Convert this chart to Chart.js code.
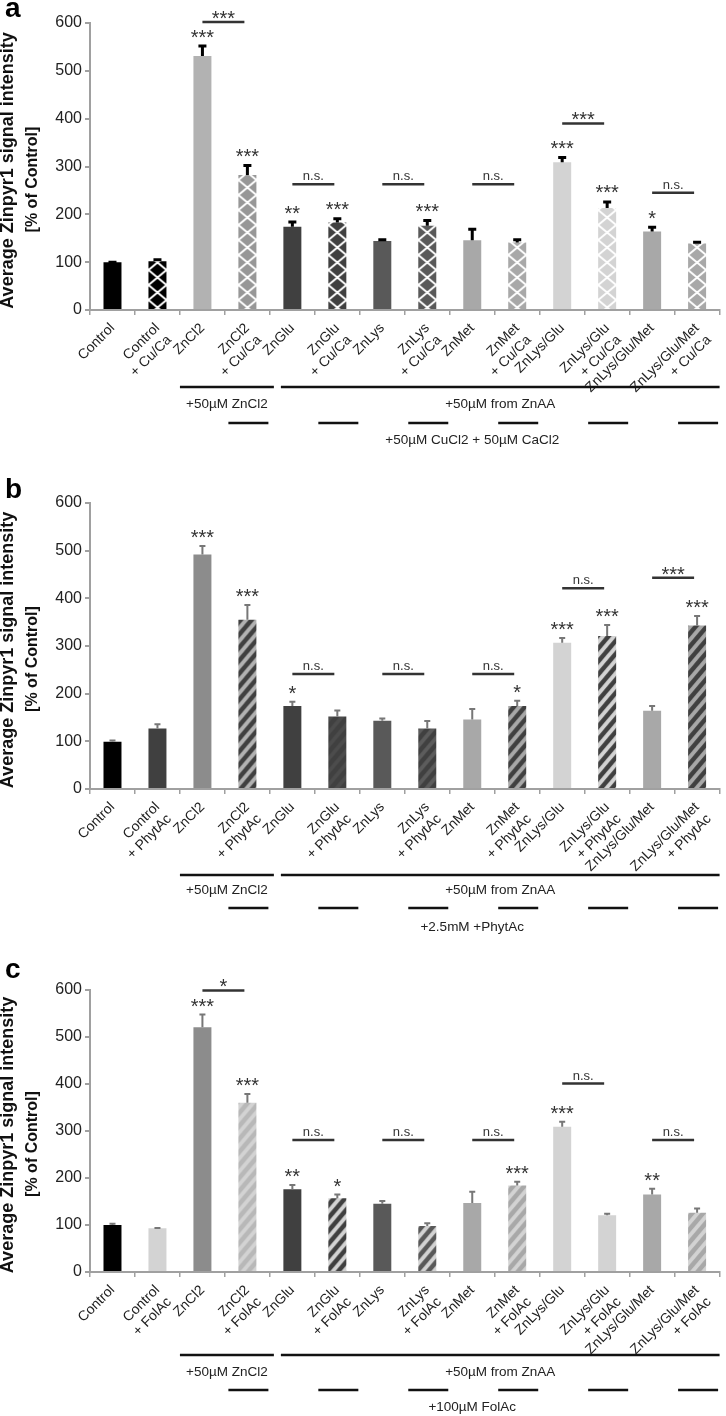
<!DOCTYPE html>
<html>
<head>
<meta charset="utf-8">
<script src="https://cdn.jsdelivr.net/npm/chart.js@4.4.0/dist/chart.umd.min.js"></script>
<style>
  html, body { margin: 0; padding: 0; background: #fff; }
  canvas { position: absolute; left: 0; }
  #chart-a { top: 0; }
  #chart-b { top: 460px; }
  #chart-c { top: 945px; }
</style>
</head>
<body>
<canvas id="chart-a" width="726" height="460"></canvas>
<canvas id="chart-b" width="726" height="485"></canvas>
<canvas id="chart-c" width="726" height="471"></canvas>
<script>
// --------------- data --------------- //

// panel a: + Cu/Ca
const labelsA = [
  'Control', ['Control', '+ Cu/Ca'], 'ZnCl2', ['ZnCl2', '+ Cu/Ca'],
  'ZnGlu', ['ZnGlu', '+ Cu/Ca'], 'ZnLys', ['ZnLys', '+ Cu/Ca'],
  'ZnMet', ['ZnMet', '+ Cu/Ca'], 'ZnLys/Glu', ['ZnLys/Glu', '+ Cu/Ca'],
  'ZnLys/Glu/Met', ['ZnLys/Glu/Met', '+ Cu/Ca']
];
const valuesA = [100, 102, 531, 282, 174, 183, 144, 176, 146, 141, 309, 213, 164, 139];
const semA = [3, 6, 24, 23, 13, 11, 6, 14, 26, 9, 13, 16, 12, 6];
const starsA = ['', '', '***', '***', '**', '***', '', '***', '', '', '***', '***', '*', ''];
// [first bar, second bar, label, level]
const bracketsA = [
  [2, 3, '***', 602], [4, 5, 'n.s.', 263], [6, 7, 'n.s.', 263],
  [8, 9, 'n.s.', 263], [10, 11, '***', 390], [12, 13, 'n.s.', 245]
];

// panel b: + PhytAc
const labelsB = [
  'Control', ['Control', '+ PhytAc'], 'ZnCl2', ['ZnCl2', '+ PhytAc'],
  'ZnGlu', ['ZnGlu', '+ PhytAc'], 'ZnLys', ['ZnLys', '+ PhytAc'],
  'ZnMet', ['ZnMet', '+ PhytAc'], 'ZnLys/Glu', ['ZnLys/Glu', '+ PhytAc'],
  'ZnLys/Glu/Met', ['ZnLys/Glu/Met', '+ PhytAc']
];
const valuesB = [99, 127, 492, 355, 174, 152, 143, 127, 146, 174, 307, 321, 164, 343];
const semB = [5, 11, 20, 33, 11, 15, 7, 18, 24, 13, 12, 25, 12, 22];
const starsB = ['', '', '***', '***', '*', '', '', '', '', '*', '***', '***', '', '***'];
const bracketsB = [
  [4, 5, 'n.s.', 241], [6, 7, 'n.s.', 241], [8, 9, 'n.s.', 241],
  [10, 11, 'n.s.', 421], [12, 13, '***', 443]
];

// panel c: + FolAc
const labelsC = [
  'Control', ['Control', '+ FolAc'], 'ZnCl2', ['ZnCl2', '+ FolAc'],
  'ZnGlu', ['ZnGlu', '+ FolAc'], 'ZnLys', ['ZnLys', '+ FolAc'],
  'ZnMet', ['ZnMet', '+ FolAc'], 'ZnLys/Glu', ['ZnLys/Glu', '+ FolAc'],
  'ZnLys/Glu/Met', ['ZnLys/Glu/Met', '+ FolAc']
];
const valuesC = [100, 93, 521, 360, 176, 157, 145, 98, 147, 184, 309, 121, 165, 126];
const semC = [5, 3, 29, 21, 11, 10, 8, 8, 26, 10, 13, 5, 14, 11];
const starsC = ['', '', '***', '***', '**', '*', '', '', '', '***', '***', '', '**', ''];
const bracketsC = [
  [2, 3, '*', 599], [4, 5, 'n.s.', 281], [6, 7, 'n.s.', 281],
  [8, 9, 'n.s.', 281], [10, 11, 'n.s.', 401], [12, 13, 'n.s.', 281]
];

// --------------- fills --------------- //
const baseA = ['#000000', '#000000', '#b2b2b2', '#979797', '#404040', '#404040', '#595959', '#595959',
  '#a8a8a8', '#a8a8a8', '#d3d3d3', '#d3d3d3', '#a8a8a8', '#a8a8a8'];
const latticeA = [false, true, false, true, false, true, false, true, false, true, false, true, false, true];

const baseB = ['#000000', '#404040', '#8c8c8c', '#404040', '#404040', '#404040', '#595959', '#404040',
  '#a8a8a8', '#404040', '#d3d3d3', '#404040', '#a8a8a8', '#404040'];
const stripeB = [null, null, null, '#b2b2b2', null, '#4c4c4c', null, '#5c5c5c',
  null, '#a8a8a8', null, '#d3d3d3', null, '#a8a8a8'];

const baseC = ['#000000', '#d3d3d3', '#8c8c8c', '#d3d3d3', '#404040', '#d3d3d3', '#595959', '#d3d3d3',
  '#a8a8a8', '#d3d3d3', '#d3d3d3', '#d3d3d3', '#a8a8a8', '#d3d3d3'];
const stripeC = [null, null, null, '#b8b8b8', null, '#404040', null, '#595959',
  null, '#a8a8a8', null, null, null, '#a8a8a8'];

const FONT = 'Arial, "Liberation Sans", sans-serif';

function latticeTile(base) {
  const w = 18, h = 15;
  const c = document.createElement('canvas');
  c.width = w; c.height = h;
  const g = c.getContext('2d');
  g.fillStyle = base;
  g.fillRect(0, 0, w, h);
  g.strokeStyle = '#ffffff';
  g.lineWidth = 2;
  g.beginPath();
  for (const dx of [-w, 0, w]) {
    g.moveTo(dx - w, -h); g.lineTo(dx + 2 * w, 2 * h);
    g.moveTo(dx + 2 * w, -h); g.lineTo(dx - w, 2 * h);
  }
  g.stroke();
  return c;
}

function stripeTile(base, stripe, lw) {
  const w = 11, h = 13;
  const c = document.createElement('canvas');
  c.width = w; c.height = h;
  const g = c.getContext('2d');
  g.fillStyle = base;
  g.fillRect(0, 0, w, h);
  g.strokeStyle = stripe;
  g.lineWidth = lw;
  g.beginPath();
  for (const k of [-1, 0, 1]) {
    g.moveTo(k * w - w, 2 * h); g.lineTo(k * w + 2 * w, -h);
  }
  g.stroke();
  return c;
}

function makeFills(base, tiles) {
  return (ctx) => {
    const i = ctx.dataIndex;
    if (i === undefined || !tiles[i]) return base[i === undefined ? 0 : i];
    const xs = ctx.chart.scales.x;
    const pat = ctx.chart.ctx.createPattern(tiles[i], 'repeat');
    let left = xs ? xs.getPixelForValue(i) - 9 : 0;
    if (!isFinite(left)) left = 0;
    pat.setTransform(new DOMMatrix().translate(left, 0));
    return pat;
  };
}

const tilesA = baseA.map((b, i) => latticeA[i] ? latticeTile(b) : null);
const tilesB = baseB.map((b, i) => stripeB[i] ? stripeTile(b, stripeB[i], 4) : null);
const tilesC = baseC.map((b, i) => stripeC[i] ? stripeTile(b, stripeC[i], 4.5) : null);

// --------------- annotations (error bars, stars, brackets, group lines) --------------- //
function annotations(p) {
  return {
    id: 'annotations',
    afterDatasetsDraw(chart) {
      const ctx = chart.ctx;
      const xs = chart.scales.x, ys = chart.scales.y;
      const area = chart.chartArea;
      const bottom = area.bottom;
      const cx = (i) => xs.getPixelForValue(i);
      const step = cx(1) - cx(0);
      ctx.save();

      // error bars + stars
      ctx.strokeStyle = p.errColor;
      ctx.textAlign = 'center';
      ctx.textBaseline = 'alphabetic';
      p.values.forEach((v, i) => {
        const x = cx(i);
        const y0 = ys.getPixelForValue(v);
        const y1 = ys.getPixelForValue(v + p.sem[i]);
        ctx.lineWidth = p.errWidth;
        ctx.beginPath();
        ctx.moveTo(x, y0); ctx.lineTo(x, y1);
        ctx.moveTo(x - p.capW, y1 + p.errWidth / 2); ctx.lineTo(x + p.capW, y1 + p.errWidth / 2);
        ctx.stroke();
        if (p.stars[i]) {
          ctx.fillStyle = '#333';
          ctx.font = '20px ' + FONT;
          ctx.fillText(p.stars[i], x, y1 - 1);
        }
      });

      // comparison brackets
      p.brackets.forEach(([a, b, label, level]) => {
        const y = ys.getPixelForValue(level);
        ctx.strokeStyle = '#333';
        ctx.lineWidth = 2.5;
        ctx.beginPath();
        ctx.moveTo(cx(a), y); ctx.lineTo(cx(b) - 3, y);
        ctx.stroke();
        ctx.fillStyle = '#333';
        const ns = label === 'n.s.';
        ctx.font = (ns ? '13px ' : '20px ') + FONT;
        ctx.fillText(label, (cx(a) + cx(b) - 3) / 2, y + (ns ? -4 : 3));
      });

      // treatment group lines under the labels
      const g = p.groups;
      ctx.strokeStyle = '#111';
      ctx.lineWidth = 2.5;
      const l2 = cx(2) - step / 2, r3 = cx(3) + step / 2 + 4, r13 = cx(13) + step / 2;
      ctx.beginPath();
      ctx.moveTo(l2, bottom + g.longY); ctx.lineTo(r3, bottom + g.longY);
      ctx.moveTo(r3 + 7, bottom + g.longY); ctx.lineTo(r13, bottom + g.longY);
      [3, 5, 7, 9, 11, 13].forEach((i) => {
        const c = cx(i) + 1;
        ctx.moveTo(c - 20, bottom + g.shortY); ctx.lineTo(c + 20, bottom + g.shortY);
      });
      ctx.stroke();
      ctx.fillStyle = '#222';
      ctx.font = '13.5px ' + FONT;
      ctx.textBaseline = 'middle';
      ctx.fillText('+50µM ZnCl2', (l2 + r3) / 2, bottom + g.textY);
      ctx.fillText('+50µM from ZnAA', (r3 + 7 + r13) / 2, bottom + g.textY);
      ctx.fillText(g.label, (cx(3) - step / 2 + r13) / 2, bottom + g.bottomY);

      // y axis title, two lines
      const mid = (area.top + area.bottom) / 2 + 4;
      ctx.fillStyle = '#111';
      ctx.textBaseline = 'alphabetic';
      ctx.translate(13, mid);
      ctx.rotate(-Math.PI / 2);
      ctx.font = 'bold 18px ' + FONT;
      ctx.fillText('Average Zinpyr1 signal intensity', 0, 0);
      ctx.font = 'bold 16px ' + FONT;
      ctx.fillText('[% of Control]', -9, 24);
      ctx.setTransform(1, 0, 0, 1, 0, 0);

      // panel letter
      ctx.textAlign = 'left';
      ctx.fillStyle = '#000';
      ctx.font = 'bold 28px ' + FONT;
      ctx.fillText(p.letter, 5, p.letterY);
      ctx.restore();
    }
  };
}

function makeChart(id, p) {
  return new Chart(document.getElementById(id), {
    type: 'bar',
    data: {
      labels: p.labels,
      datasets: [{
        data: p.values,
        backgroundColor: p.fill,
        borderWidth: 0,
        barPercentage: 0.4,
        categoryPercentage: 1.0,
      }]
    },
    plugins: [annotations(p)],
    options: {
      responsive: false,
      animation: false,
      layout: { padding: { top: p.top, right: 4, left: 0, bottom: 0 } },
      plugins: {
        legend: { display: false },
        tooltip: { enabled: false },
      },
      scales: {
        x: {
          grid: { drawOnChartArea: false, drawTicks: true, tickLength: 5, color: '#a0a0a0', lineWidth: 1.5 },
          border: { color: '#a0a0a0', width: 2 },
          ticks: {
            autoSkip: false, maxRotation: 45, minRotation: 45, padding: 5,
            color: '#222', font: { family: FONT, size: 14 },
          },
          afterFit: (scale) => { scale.height = p.axisH; },
        },
        y: {
          min: 0,
          max: 600,
          ticks: { stepSize: 100, padding: 3, color: '#222', font: { family: FONT, size: 16 } },
          grid: { drawOnChartArea: false, tickLength: 5, color: '#a0a0a0', lineWidth: 2 },
          border: { color: '#a0a0a0', width: 2 },
          afterFit: (scale) => { scale.width = 90; },
        }
      }
    }
  });
}

const chartA = makeChart('chart-a', {
  labels: labelsA, values: valuesA, sem: semA, stars: starsA, brackets: bracketsA,
  fill: makeFills(baseA, tilesA), errColor: '#000', errWidth: 3, capW: 4,
  top: 23, axisH: 150, letter: 'a', letterY: 17,
  groups: { longY: 77, textY: 94, shortY: 113, bottomY: 130, label: '+50µM CuCl2 + 50µM CaCl2' },
});

const chartB = makeChart('chart-b', {
  labels: labelsB, values: valuesB, sem: semB, stars: starsB, brackets: bracketsB,
  fill: makeFills(baseB, tilesB), errColor: '#777', errWidth: 2, capW: 3,
  top: 43, axisH: 156, letter: 'b', letterY: 38,
  groups: { longY: 86, textY: 101, shortY: 119, bottomY: 138, label: '+2.5mM +PhytAc' },
});

const chartC = makeChart('chart-c', {
  labels: labelsC, values: valuesC, sem: semC, stars: starsC, brackets: bracketsC,
  fill: makeFills(baseC, tilesC), errColor: '#777', errWidth: 2, capW: 3,
  top: 45, axisH: 144, letter: 'c', letterY: 33,
  groups: { longY: 83, textY: 100, shortY: 118, bottomY: 135, label: '+100µM FolAc' },
});
</script>
</body>
</html>
